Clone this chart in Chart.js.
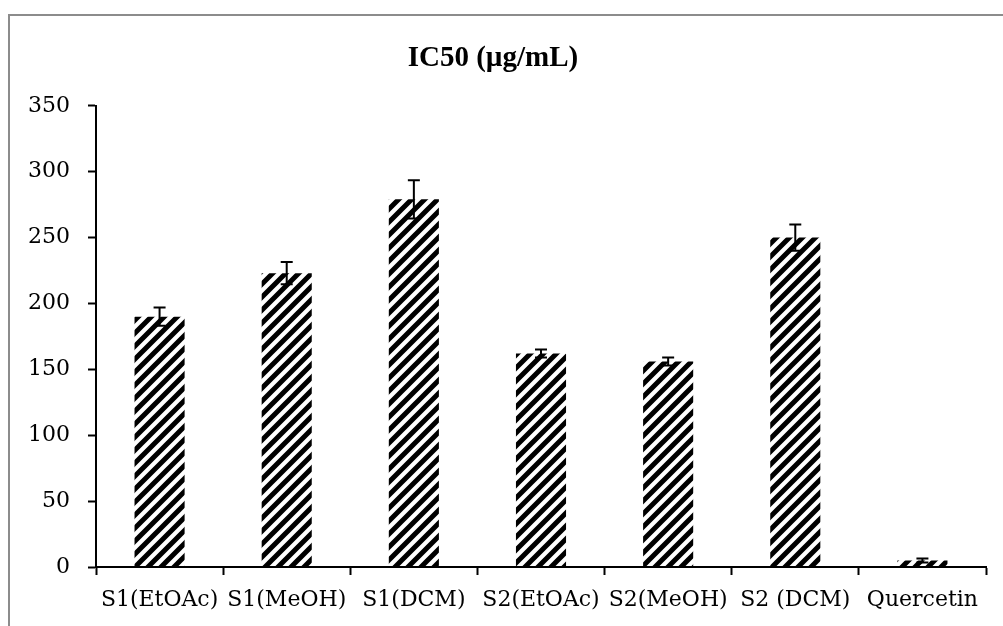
<!DOCTYPE html>
<html lang="en">
<head>
  <meta charset="UTF-8" />
  <title>IC50 (µg/mL)</title>
  <script src="https://cdn.jsdelivr.net/npm/chart.js"></script>
  <style>
    body {
      margin: 0;
      background: #fff;
      width: 1003px;
      height: 626px;
      overflow: hidden;
      position: relative;
    }
    .frame {
      position: absolute;
      left: 8px;
      top: 14px;
      width: 1100px;
      height: 700px;
      border: 2px solid #8c8c8c;
    }
    #wrap {
      position: absolute;
      left: 0;
      top: 0;
      width: 1003px;
      height: 626px;
    }
  </style>
</head>
<body>
  <div class="frame"></div>
  <div id="wrap"><canvas id="ic50Chart" width="1003" height="626"></canvas></div>

  <script>
    // dados
    const categorias = ['S1(EtOAc)', 'S1(MeOH)', 'S1(DCM)', 'S2(EtOAc)', 'S2(MeOH)', 'S2 (DCM)', 'Quercetin'];
    const valores = [190, 223, 279, 162, 156, 250, 5];
    const erros = [7, 8.5, 14.5, 3, 3, 10, 1.5];
    const yTicks = [0, 50, 100, 150, 200, 250, 300, 350];

    // hachurado diagonal preto
    function criarHachura() {
      const t = 13;
      const c = document.createElement('canvas');
      c.width = t; c.height = t;
      const g = c.getContext('2d');
      g.strokeStyle = '#000';
      g.lineWidth = 5;
      g.beginPath();
      g.moveTo(-t, 2 * t); g.lineTo(2 * t, -t);
      g.moveTo(-t, t); g.lineTo(t, -t);
      g.moveTo(0, 2 * t); g.lineTo(2 * t, 0);
      g.stroke();
      return g.createPattern(c, 'repeat');
    }

    // barras de erro desenhadas com a escala do próprio gráfico
    const barrasErro = {
      id: 'barrasErro',
      afterDatasetsDraw(chart) {
        const ctx = chart.ctx;
        const y = chart.scales.y;
        const meta = chart.getDatasetMeta(0);
        ctx.save();
        ctx.strokeStyle = '#000';
        ctx.lineWidth = 2;
        meta.data.forEach((bar, i) => {
          const yTop = y.getPixelForValue(valores[i] + erros[i]);
          const yBot = y.getPixelForValue(valores[i] - erros[i]);
          const x = bar.x;
          ctx.beginPath();
          ctx.moveTo(x, yTop); ctx.lineTo(x, yBot);
          ctx.moveTo(x - 6, yTop); ctx.lineTo(x + 6, yTop);
          ctx.moveTo(x - 6, yBot); ctx.lineTo(x + 6, yBot);
          ctx.stroke();
        });
        ctx.restore();
      }
    };

    const fonteEixo = { family: "'DejaVu Serif', serif", size: 22 };

    new Chart(document.getElementById('ic50Chart'), {
      type: 'bar',
      data: {
        labels: categorias,
        datasets: [{
          label: 'IC50',
          data: valores,
          backgroundColor: criarHachura(),
          borderWidth: 0,
          barPercentage: 0.394,
          categoryPercentage: 1
        }]
      },
      options: {
        responsive: false,
        animation: false,
        layout: { padding: { left: 0, right: 17, top: 0, bottom: 0 } },
        plugins: {
          legend: { display: false },
          tooltip: { enabled: false },
          title: {
            display: true,
            text: 'IC50 (µg/mL)',
            color: '#000',
            font: { family: "'Liberation Serif', serif", size: 29, weight: 'bold' },
            padding: { top: 41, bottom: 30 }
          }
        },
        scales: {
          x: {
            grid: {
              offset: true,
              drawOnChartArea: false,
              tickLength: 8,
              tickColor: '#000',
              tickWidth: 2
            },
            border: { color: '#000', width: 2 },
            ticks: {
              color: '#000',
              font: fonteEixo,
              autoSkip: false,
              maxRotation: 0,
              padding: 12
            },
            afterFit: s => { s.height = 59; }
          },
          y: {
            min: 0,
            max: 350,
            afterBuildTicks: s => { s.ticks = yTicks.map(v => ({ value: v })); },
            grid: {
              drawOnChartArea: false,
              tickLength: 8,
              tickColor: '#000',
              tickWidth: 2
            },
            border: { color: '#000', width: 2 },
            ticks: {
              color: '#000',
              font: fonteEixo,
              padding: 18
            },
            afterFit: s => { s.width = 96; }
          }
        }
      },
      plugins: [barrasErro]
    });
  </script>
</body>
</html>
